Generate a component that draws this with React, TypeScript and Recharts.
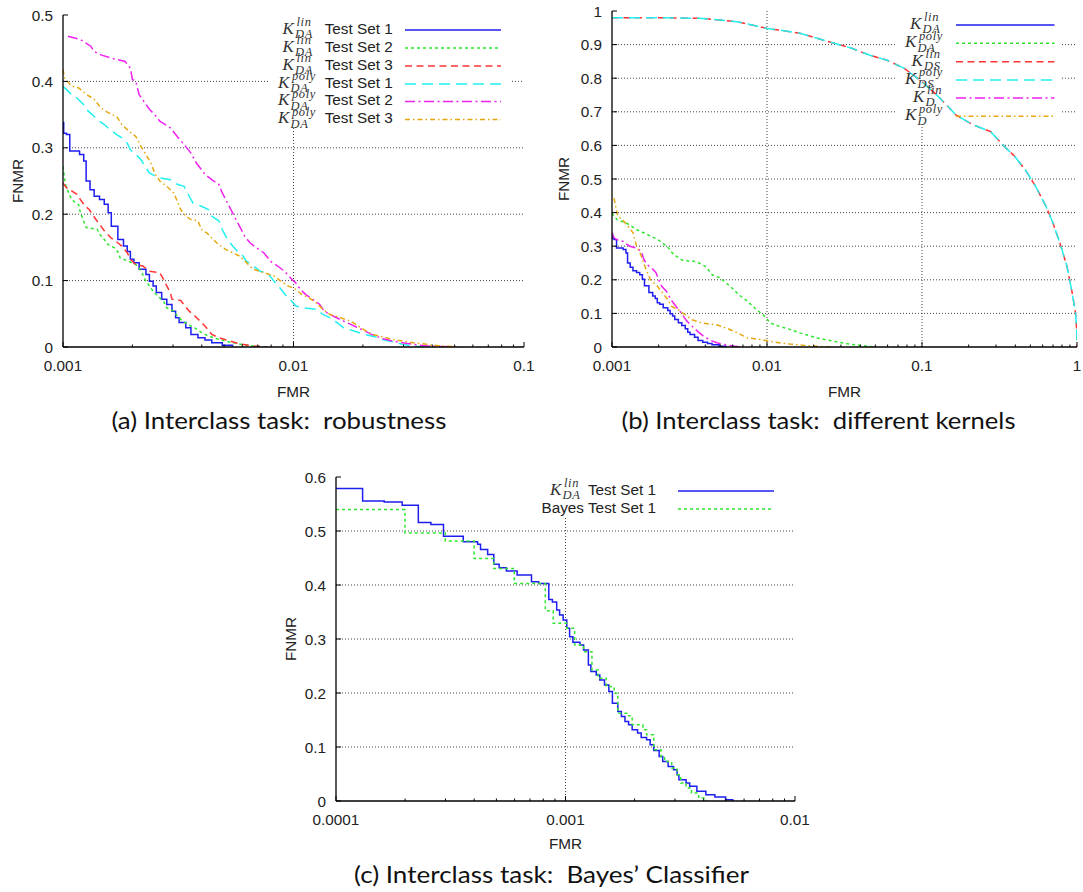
import React from 'react';
import { LineChart, Line, XAxis, YAxis, CartesianGrid, Legend } from 'recharts';

type Pair = [number, number];

const SANS = '"Liberation Sans", Arial, sans-serif';
const SERIF = '"Liberation Serif", "Times New Roman", serif';
const INK = '#222';

// ---------- (a) robustness ----------
const xMajorsA = [0.001, 0.01, 0.1];
const yTicksA = [0, 0.1, 0.2, 0.3, 0.4, 0.5];

const aLinSet1: Pair[] = [
  [0.001, 0.338], [0.001007, 0.322], [0.001035, 0.32], [0.00107, 0.295], [0.00118, 0.29],
  [0.00123, 0.28], [0.00126, 0.25], [0.00131, 0.237], [0.001365, 0.227], [0.00144, 0.222],
  [0.00151, 0.215], [0.00157, 0.202], [0.00162, 0.182], [0.00173, 0.162], [0.00183, 0.152],
  [0.0019, 0.144], [0.00196, 0.132], [0.00203, 0.127], [0.00214, 0.117], [0.00229, 0.109],
  [0.00237, 0.099], [0.00246, 0.092], [0.00254, 0.082], [0.00268, 0.072], [0.00282, 0.064],
  [0.00297, 0.054], [0.00308, 0.044], [0.00319, 0.037], [0.00341, 0.029], [0.00359, 0.019],
  [0.00385, 0.014], [0.00413, 0.0105], [0.00442, 0.0065], [0.00491, 0.0025], [0.00544, 0],
];
const aLinSet2: Pair[] = [
  [0.001, 0.272], [0.001024, 0.245], [0.001035, 0.24], [0.00109, 0.222], [0.00117, 0.214],
  [0.00119, 0.202], [0.00126, 0.18], [0.00141, 0.177], [0.00144, 0.17], [0.00151, 0.162],
  [0.00157, 0.154], [0.00168, 0.149], [0.00174, 0.142], [0.00177, 0.134], [0.00193, 0.129],
  [0.00207, 0.124], [0.00214, 0.119], [0.00222, 0.109], [0.00229, 0.099], [0.00237, 0.092],
  [0.00246, 0.084], [0.00254, 0.079], [0.00263, 0.074], [0.00273, 0.069], [0.00282, 0.059],
  [0.00302, 0.054], [0.00313, 0.047], [0.0033, 0.039], [0.00347, 0.034], [0.00372, 0.029],
  [0.00399, 0.0216], [0.00427, 0.0166], [0.00474, 0.0115], [0.00544, 0.0065], [0.00625, 0.0025],
  [0.00769, 0],
];
const aLinSet3: Pair[] = [
  [0.001, 0.247], [0.001035, 0.24], [0.00109, 0.235], [0.00115, 0.23], [0.00119, 0.222],
  [0.00125, 0.212], [0.0013, 0.207], [0.00134, 0.2], [0.00139, 0.192], [0.00146, 0.182],
  [0.00151, 0.175], [0.00162, 0.164], [0.0017, 0.159], [0.0018, 0.152], [0.0019, 0.142],
  [0.00196, 0.132], [0.00207, 0.124], [0.00222, 0.122], [0.00237, 0.114], [0.00263, 0.112],
  [0.00273, 0.102], [0.00282, 0.092], [0.00292, 0.082], [0.00297, 0.072], [0.00324, 0.07],
  [0.00353, 0.054], [0.00372, 0.047], [0.00399, 0.037], [0.00419, 0.029], [0.00442, 0.019],
  [0.00474, 0.014], [0.0053, 0.009], [0.0058, 0.005], [0.0067, 0.0015], [0.0077, 0],
];
const aPolySet1: Pair[] = [
  [0.001, 0.392], [0.001035, 0.388], [0.00109, 0.38], [0.00115, 0.375], [0.00123, 0.365],
  [0.00127, 0.357], [0.00134, 0.35], [0.00141, 0.342], [0.00151, 0.335], [0.0016, 0.327],
  [0.00171, 0.32], [0.0018, 0.315], [0.0019, 0.307], [0.00196, 0.297], [0.00207, 0.29],
  [0.00218, 0.282], [0.00229, 0.27], [0.00237, 0.262], [0.00259, 0.255], [0.00292, 0.252],
  [0.00313, 0.245], [0.00335, 0.242], [0.00353, 0.227], [0.00366, 0.217], [0.00399, 0.212],
  [0.00427, 0.207], [0.00442, 0.197], [0.00474, 0.19], [0.00491, 0.177], [0.00517, 0.162],
  [0.00544, 0.152], [0.00573, 0.144], [0.00604, 0.137], [0.00625, 0.129], [0.00669, 0.122],
  [0.00717, 0.114], [0.00769, 0.112], [0.00824, 0.099], [0.00883, 0.087], [0.0093, 0.077],
  [0.00983, 0.069], [0.0102, 0.062], [0.0109, 0.059], [0.0125, 0.057], [0.0134, 0.049],
  [0.0144, 0.044], [0.0154, 0.037], [0.0165, 0.029], [0.0183, 0.024], [0.0203, 0.019],
  [0.0225, 0.0155], [0.0242, 0.0115], [0.0268, 0.008], [0.0297, 0.004], [0.033, 0.0015],
  [0.0366, 0],
];
const aPolySet2: Pair[] = [
  [0.00105, 0.468], [0.00119, 0.463], [0.00132, 0.453], [0.001365, 0.445], [0.00146, 0.44],
  [0.00162, 0.435], [0.00186, 0.43], [0.00196, 0.42], [0.002, 0.403], [0.00207, 0.4],
  [0.00214, 0.38], [0.00222, 0.372], [0.00237, 0.358], [0.0025, 0.35], [0.00263, 0.34],
  [0.00292, 0.33], [0.00313, 0.317], [0.00335, 0.305], [0.00359, 0.292], [0.00379, 0.277],
  [0.00399, 0.267], [0.00413, 0.26], [0.00442, 0.252], [0.00474, 0.245], [0.00491, 0.232],
  [0.00517, 0.217], [0.00544, 0.202], [0.00563, 0.192], [0.00583, 0.182], [0.00614, 0.167],
  [0.00647, 0.157], [0.00693, 0.149], [0.00743, 0.142], [0.00796, 0.129], [0.00853, 0.122],
  [0.00914, 0.114], [0.00983, 0.102], [0.0102, 0.097], [0.0107, 0.087], [0.0113, 0.079],
  [0.0121, 0.072], [0.013, 0.064], [0.0136, 0.054], [0.0144, 0.049], [0.0154, 0.044],
  [0.0165, 0.039], [0.0177, 0.034], [0.0196, 0.027], [0.0218, 0.019], [0.0242, 0.013],
  [0.0268, 0.009], [0.0297, 0.0065], [0.033, 0.004], [0.0379, 0.0015], [0.0495, 0],
];
const aPolySet3: Pair[] = [
  [0.001, 0.418], [0.001017, 0.405], [0.00109, 0.393], [0.00117, 0.39], [0.00127, 0.38],
  [0.001365, 0.373], [0.00146, 0.36], [0.00157, 0.353], [0.00171, 0.347], [0.0018, 0.335],
  [0.00193, 0.325], [0.00207, 0.317], [0.00218, 0.302], [0.00229, 0.29], [0.00242, 0.275],
  [0.0025, 0.262], [0.00263, 0.25], [0.00282, 0.242], [0.00302, 0.232], [0.00313, 0.22],
  [0.00324, 0.207], [0.00341, 0.197], [0.00359, 0.192], [0.00385, 0.19], [0.00399, 0.177],
  [0.0042, 0.172], [0.00442, 0.164], [0.00474, 0.154], [0.00508, 0.147], [0.00544, 0.142],
  [0.00583, 0.137], [0.00625, 0.127], [0.00669, 0.117], [0.00743, 0.112], [0.00824, 0.107],
  [0.00883, 0.099], [0.00946, 0.092], [0.0102, 0.087], [0.0109, 0.079], [0.0117, 0.074],
  [0.0125, 0.067], [0.0134, 0.057], [0.0144, 0.049], [0.016, 0.044], [0.0177, 0.039],
  [0.0196, 0.029], [0.0218, 0.019], [0.0242, 0.0155], [0.0268, 0.0115], [0.0297, 0.009],
  [0.033, 0.0065], [0.0379, 0.004], [0.0435, 0.0015], [0.0535, 0],
];

// ---------- (b) different kernels ----------
const xMajorsB = [0.001, 0.01, 0.1, 1];
const yTicksB = [0, 0.1, 0.2, 0.3, 0.4, 0.5, 0.6, 0.7, 0.8, 0.9, 1];

const bDaPoly: Pair[] = [
  [0.001, 0.398], [0.00103, 0.389], [0.00108, 0.379], [0.00124, 0.369], [0.00145, 0.349],
  [0.0017, 0.334], [0.00199, 0.319], [0.00226, 0.3], [0.0025, 0.275], [0.00285, 0.258],
  [0.0035, 0.254], [0.004, 0.24], [0.00443, 0.215], [0.005, 0.205], [0.0058, 0.18],
  [0.0066, 0.155], [0.0075, 0.136], [0.0085, 0.112], [0.0095, 0.095], [0.0105, 0.072],
  [0.0113, 0.065], [0.0135, 0.055], [0.0163, 0.042], [0.021, 0.027], [0.027, 0.017],
  [0.035, 0.008], [0.045, 0.002], [0.05, 0],
];
// K_DS lin and poly lie on top of each other
const bDsCurve: Pair[] = [
  [0.001, 0.98], [0.002, 0.98], [0.00384, 0.978], [0.00497, 0.973], [0.00643, 0.968],
  [0.0075, 0.961], [0.01, 0.948], [0.01256, 0.942], [0.01626, 0.934], [0.02104, 0.919],
  [0.02723, 0.904], [0.03524, 0.889], [0.0456, 0.869], [0.059, 0.854], [0.0764, 0.83],
  [0.1, 0.79], [0.1278, 0.745], [0.1654, 0.691], [0.214, 0.661], [0.277, 0.641],
  [0.34, 0.597], [0.397, 0.567], [0.464, 0.527], [0.541, 0.478], [0.632, 0.418],
  [0.7, 0.369], [0.7765, 0.309], [0.861, 0.24], [0.931, 0.161], [0.979, 0.101],
  [0.998, 0.042], [1, 0],
];
const bDLin: Pair[] = [
  [0.001, 0.339], [0.00103, 0.325], [0.00108, 0.319], [0.00118, 0.314], [0.0013, 0.3],
  [0.00143, 0.295], [0.00155, 0.284], [0.0016, 0.262], [0.00168, 0.245], [0.0018, 0.235],
  [0.00192, 0.222], [0.002, 0.2], [0.0021, 0.18], [0.00225, 0.165], [0.0024, 0.141],
  [0.0026, 0.12], [0.0028, 0.101], [0.003, 0.08], [0.0033, 0.061], [0.0036, 0.045],
  [0.0039, 0.032], [0.0043, 0.02], [0.0048, 0.012], [0.0055, 0.006], [0.0062, 0.002],
  [0.0068, 0],
];
const bDPoly: Pair[] = [
  [0.00103, 0.443], [0.00109, 0.389], [0.00117, 0.379], [0.00127, 0.359], [0.00137, 0.339],
  [0.00144, 0.3], [0.00152, 0.28], [0.0016, 0.25], [0.00168, 0.225], [0.00177, 0.2],
  [0.00197, 0.18], [0.00212, 0.161], [0.00229, 0.141], [0.00242, 0.121], [0.00268, 0.111],
  [0.00297, 0.096], [0.00329, 0.081], [0.00384, 0.071], [0.00472, 0.066], [0.00551, 0.056],
  [0.00611, 0.047], [0.00677, 0.037], [0.0075, 0.027], [0.0092, 0.022], [0.0113, 0.014],
  [0.0139, 0.009], [0.0171, 0.005], [0.021, 0.002], [0.027, 0],
];

// ---------- (c) Bayes classifier ----------
const xMajorsC = [0.0001, 0.001, 0.01];
const yTicksC = [0, 0.1, 0.2, 0.3, 0.4, 0.5, 0.6];

const cLinSet1: Pair[] = [
  [0.0001, 0.5785], [0.0001306, 0.5557], [0.0001622, 0.5538], [0.0001942, 0.5476],
  [0.0002284, 0.5156], [0.0002591, 0.5119], [0.000294, 0.4904], [0.0003584, 0.48],
  [0.000414, 0.4756], [0.0004263, 0.4657], [0.000458, 0.4565], [0.000487, 0.4386],
  [0.000514, 0.4318], [0.0005525, 0.4257], [0.0006156, 0.4183], [0.000711, 0.406],
  [0.000764, 0.4029], [0.0008457, 0.3733], [0.0008767, 0.3684], [0.0009155, 0.3536],
  [0.0009423, 0.3444], [0.0009768, 0.3351], [0.0010127, 0.3197], [0.001042, 0.3043],
  [0.001077, 0.2938], [0.001157, 0.2889], [0.001199, 0.2797], [0.001258, 0.252],
  [0.00129, 0.2396], [0.001361, 0.2335], [0.001411, 0.2242], [0.001479, 0.215],
  [0.001545, 0.2027], [0.001601, 0.1811], [0.00169, 0.1657], [0.001752, 0.1565],
  [0.001816, 0.1472], [0.001883, 0.1411], [0.001952, 0.1318], [0.002061, 0.1257],
  [0.002137, 0.1177], [0.002256, 0.1133], [0.002338, 0.1041], [0.002424, 0.0936],
  [0.002559, 0.0825], [0.002652, 0.0733], [0.0028, 0.0641], [0.002956, 0.0579],
  [0.003064, 0.0487], [0.00312, 0.0394], [0.003353, 0.0333], [0.003476, 0.0271],
  [0.003736, 0.0179], [0.004089, 0.0117], [0.004475, 0.0074], [0.004985, 0.0025],
  [0.005358, 0],
];
const cBayesSet1: Pair[] = [
  [0.0001, 0.5396], [0.0001998, 0.4965], [0.0002993, 0.4817], [0.0003995, 0.4491],
  [0.000487, 0.4306], [0.000598, 0.4029], [0.0008167, 0.3524], [0.000884, 0.329],
  [0.0010127, 0.3197], [0.001096, 0.2889], [0.001199, 0.2766], [0.001304, 0.2427],
  [0.001386, 0.2273], [0.001506, 0.2119], [0.00163, 0.1996], [0.00169, 0.1626],
  [0.001883, 0.1577], [0.001952, 0.1411], [0.002175, 0.1318], [0.002256, 0.1226],
  [0.002424, 0.0949], [0.002605, 0.0825], [0.002701, 0.0733], [0.002903, 0.061],
  [0.003064, 0.0487], [0.003177, 0.0333], [0.003353, 0.024], [0.00354, 0.0148],
  [0.003805, 0.0055], [0.004089, 0],
];

// ---------- styles ----------
const BLUE = '#1e1ef0';
const GREEN = '#2fe62f';
const RED = '#ff3535';
const CYAN = '#22f0f0';
const MAGENTA = '#f022f0';
const ORANGE = '#e6a812';

const DOTTED = '3 3';
const DASHED = '7 4.5';
const LONGDASH = '11 6';
const DASHDOT = '10 3.5 2 3.5';
const DASHDOTDOT = '5 3 1.5 3';

type KeyEntry = { y: number; kx?: number; sup?: string; sub?: string; text?: string };
type Series = { id: string; data: Pair[]; color: string; dash?: string; step?: boolean; key: KeyEntry };
type PanelCfg = {
  left: number; top: number; width: number; height: number;
  margin: { top: number; right: number; bottom: number; left: number };
  yAxisWidth: number; xAxisHeight: number;
  xMajors: number[]; yTicks: number[];
  series: Series[];
  gap: { left: number; right: number; bottom: number };
  keyLine: { textRight?: number; x1: number; x2: number };
};

const panelA: PanelCfg = {
  left: 0, top: 0, width: 545, height: 405,
  margin: { top: 15, right: 21, bottom: 0, left: 8 },
  yAxisWidth: 55, xAxisHeight: 58,
  xMajors: xMajorsA, yTicks: yTicksA,
  gap: { left: 270, right: 512, bottom: 128 },
  keyLine: { textRight: 392.7, x1: 405, x2: 501 },
  series: [
    { id: 'a1', data: aLinSet1, color: BLUE, step: true, key: { y: 30, kx: 282.5, sup: 'lin', sub: 'DA', text: 'Test Set 1' } },
    { id: 'a2', data: aLinSet2, color: GREEN, dash: DOTTED, key: { y: 48, kx: 282.5, sup: 'lin', sub: 'DA', text: 'Test Set 2' } },
    { id: 'a3', data: aLinSet3, color: RED, dash: DASHED, key: { y: 66, kx: 282.5, sup: 'lin', sub: 'DA', text: 'Test Set 3' } },
    { id: 'a4', data: aPolySet1, color: CYAN, dash: LONGDASH, key: { y: 84, kx: 278, sup: 'poly', sub: 'DA', text: 'Test Set 1' } },
    { id: 'a5', data: aPolySet2, color: MAGENTA, dash: DASHDOT, key: { y: 101.5, kx: 278, sup: 'poly', sub: 'DA', text: 'Test Set 2' } },
    { id: 'a6', data: aPolySet3, color: ORANGE, dash: DASHDOTDOT, key: { y: 119.5, kx: 278, sup: 'poly', sub: 'DA', text: 'Test Set 3' } },
  ],
};

const panelB: PanelCfg = {
  left: 545, top: 0, width: 538, height: 405,
  margin: { top: 11, right: 6, bottom: 0, left: 8 },
  yAxisWidth: 59, xAxisHeight: 58,
  xMajors: xMajorsB, yTicks: yTicksB,
  gap: { left: 351, right: 517, bottom: 127 },
  keyLine: { x1: 411, x2: 509.5 },
  series: [
    { id: 'b1', data: aLinSet1, color: BLUE, step: true, key: { y: 25, kx: 365, sup: 'lin', sub: 'DA' } },
    { id: 'b2', data: bDaPoly, color: GREEN, dash: DOTTED, key: { y: 43.3, kx: 360, sup: 'poly', sub: 'DA' } },
    { id: 'b3', data: bDsCurve, color: RED, dash: DASHED, key: { y: 61.7, kx: 366.5, sup: 'lin', sub: 'DS' } },
    { id: 'b4', data: bDsCurve, color: CYAN, dash: LONGDASH, key: { y: 80, kx: 360, sup: 'poly', sub: 'DS' } },
    { id: 'b5', data: bDLin, color: MAGENTA, dash: DASHDOT, key: { y: 98, kx: 368, sup: 'lin', sub: 'D' } },
    { id: 'b6', data: bDPoly, color: ORANGE, dash: DASHDOTDOT, key: { y: 116.3, kx: 360, sup: 'poly', sub: 'D' } },
  ],
};

const panelC: PanelCfg = {
  left: 250, top: 440, width: 580, height: 420,
  margin: { top: 37, right: 35, bottom: 0, left: 8 },
  yAxisWidth: 78, xAxisHeight: 59,
  xMajors: xMajorsC, yTicks: yTicksC,
  gap: { left: 275, right: 540, bottom: 78 },
  keyLine: { textRight: 406, x1: 428, x2: 524 },
  series: [
    { id: 'c1', data: cLinSet1, color: BLUE, step: true, key: { y: 51, kx: 300, sup: 'lin', sub: 'DA', text: 'Test Set 1' } },
    { id: 'c2', data: cBayesSet1, color: GREEN, dash: DOTTED, step: true, key: { y: 69, text: 'Bayes Test Set 1' } },
  ],
};

const tickFont = { fontFamily: SANS, fontSize: 15.3, fill: INK };
const keyFont = { fontFamily: SANS, fontSize: 15.3, fill: INK };
const mathK = { fontFamily: SERIF, fontStyle: 'italic', fontSize: 17, fill: '#333' };
const mathS = { fontFamily: SERIF, fontStyle: 'italic', fontSize: 12.5, fill: '#333', letterSpacing: 0.6 };

const withMinors = (majors: number[]) => {
  const out: number[] = [];
  majors.forEach((m, i) => {
    out.push(m);
    if (i < majors.length - 1) for (let k = 2; k <= 9; k++) out.push(m * k);
  });
  return out;
};

const toPts = (arr: Pair[]) => arr.map(([x, y]) => ({ x, y }));

function xTick(majors: number[], top: boolean) {
  return (p: any) => {
    const v = p.payload.value;
    const major = majors.some((m) => Math.abs(m - v) < m * 1e-9);
    const len = major ? 5 : 2.5;
    return (
      <g>
        <line x1={p.x} x2={p.x} y1={p.y} y2={top ? p.y + len : p.y - len} stroke="#000" strokeWidth={1} />
        {!top && major && (
          <text x={p.x} y={p.y + 18} textAnchor="middle" dominantBaseline="central" style={tickFont}>
            {String(v)}
          </text>
        )}
      </g>
    );
  };
}

function yTick(right: boolean) {
  return (p: any) => (
    <g>
      <line x1={p.x} x2={right ? p.x - 5 : p.x + 5} y1={p.y} y2={p.y} stroke="#000" strokeWidth={1} />
      {!right && (
        <text x={p.x - 10} y={p.y} textAnchor="end" dominantBaseline="central" style={tickFont}>
          {String(p.payload.value)}
        </text>
      )}
    </g>
  );
}

// gnuplot leaves the grid out where the key sits
function gridLines(gap: PanelCfg['gap']) {
  const common = { stroke: '#444', strokeWidth: 1, strokeDasharray: '1 2', fill: 'none' };
  return {
    horizontal: (p: any) => {
      const d = p.y1 < gap.bottom
        ? `M${p.x1},${p.y1}H${gap.left}M${gap.right},${p.y1}H${p.x2}`
        : `M${p.x1},${p.y1}H${p.x2}`;
      return <path key={`h-${p.y1}`} d={d} {...common} />;
    },
    vertical: (p: any) => {
      const y0 = p.x1 > gap.left && p.x1 < gap.right ? Math.max(p.y1, gap.bottom) : p.y1;
      return <path key={`v-${p.x1}`} d={`M${p.x1},${y0}V${p.y2}`} {...common} />;
    },
  };
}

function KeyBox({ cfg }: { cfg: PanelCfg }) {
  const { keyLine } = cfg;
  return (
    <svg width={cfg.width} height={cfg.height} style={{ position: 'absolute', left: 0, top: 0, overflow: 'visible' }}>
      {cfg.series.map((s) => {
        const k = s.key;
        return (
          <g key={s.id}>
            {k.kx !== undefined && (
              <>
                <text x={k.kx} y={k.y + 3.8} style={mathK}>K</text>
                <text x={k.kx + 14} y={k.y - 3.8} style={mathS}>{k.sup}</text>
                <text x={k.kx + 12.5} y={k.y + 8.2} style={mathS}>{k.sub}</text>
              </>
            )}
            {k.text && keyLine.textRight !== undefined && (
              <text x={keyLine.textRight} y={k.y + 3.7} textAnchor="end" style={keyFont}>{k.text}</text>
            )}
            <line x1={keyLine.x1} x2={keyLine.x2} y1={k.y} y2={k.y} stroke={s.color} strokeWidth={1.6} strokeDasharray={s.dash} />
          </g>
        );
      })}
    </svg>
  );
}

function Panel({ cfg }: { cfg: PanelCfg }) {
  const xTicks = withMinors(cfg.xMajors);
  const xDomain = [cfg.xMajors[0], cfg.xMajors[cfg.xMajors.length - 1]];
  const yDomain = [cfg.yTicks[0], cfg.yTicks[cfg.yTicks.length - 1]];
  const grid = gridLines(cfg.gap);
  const frame = { stroke: '#000', strokeWidth: 1.3 };
  return (
    <div style={{ position: 'absolute', left: cfg.left, top: cfg.top, width: cfg.width, height: cfg.height }}>
      <LineChart width={cfg.width} height={cfg.height} margin={cfg.margin}>
        <CartesianGrid
          horizontalValues={cfg.yTicks.slice(1, -1)}
          verticalValues={cfg.xMajors.slice(1, -1)}
          horizontal={grid.horizontal}
          vertical={grid.vertical}
        />
        <XAxis
          dataKey="x" type="number" scale="log" domain={xDomain} allowDataOverflow
          ticks={xTicks} interval={0} height={cfg.xAxisHeight}
          tickSize={0} tickMargin={0} tickLine={false} axisLine={frame}
          tick={xTick(cfg.xMajors, false)}
        />
        <XAxis
          xAxisId="top" orientation="top" dataKey="x" type="number" scale="log" domain={xDomain} allowDataOverflow
          ticks={xTicks} interval={0} height={0}
          tickSize={0} tickMargin={0} tickLine={false} axisLine={frame}
          tick={xTick(cfg.xMajors, true)}
        />
        <YAxis
          type="number" domain={yDomain} allowDataOverflow ticks={cfg.yTicks} interval={0}
          width={cfg.yAxisWidth} tickSize={0} tickMargin={0} tickLine={false} axisLine={frame}
          tick={yTick(false)}
        />
        <YAxis
          yAxisId="right" orientation="right" type="number" domain={yDomain} allowDataOverflow
          ticks={cfg.yTicks} interval={0} width={0} tickSize={0} tickMargin={0} tickLine={false}
          axisLine={frame} tick={yTick(true)}
        />
        {cfg.series.map((s) => (
          <Line
            key={s.id}
            data={toPts(s.data)}
            dataKey="y"
            type={s.step ? 'stepAfter' : 'linear'}
            stroke={s.color}
            strokeWidth={1.5}
            strokeDasharray={s.dash}
            dot={false}
            activeDot={false}
            isAnimationActive={false}
          />
        ))}
        <Legend
          layout="horizontal"
          verticalAlign="middle"
          align="center"
          wrapperStyle={{ left: 0, top: 0, width: cfg.width, height: cfg.height, pointerEvents: 'none' }}
          content={() => <KeyBox cfg={cfg} />}
        />
      </LineChart>
    </div>
  );
}

const axisTitles = [
  { text: 'FMR', x: 293.5, y: 391.7, rotate: false },
  { text: 'FNMR', x: 17.3, y: 181, rotate: true },
  { text: 'FMR', x: 844.5, y: 391.7, rotate: false },
  { text: 'FNMR', x: 563.6, y: 179, rotate: true },
  { text: 'FMR', x: 565.5, y: 843.3, rotate: false },
  { text: 'FNMR', x: 290.5, y: 639, rotate: true },
];

const captions = [
  { text: '(a) Interclass task:  robustness', x: 278.9, y: 429, len: 335 },
  { text: '(b) Interclass task:  different kernels', x: 818.5, y: 429, len: 394 },
  { text: '(c) Interclass task:  Bayes\u2019 Classifier', x: 551.5, y: 883.3, len: 395 },
];

export default function App() {
  return (
    <div style={{ position: 'absolute', left: 0, top: 0, width: 1083, height: 892, background: '#fff', overflow: 'hidden' }}>
      <Panel cfg={panelA} />
      <Panel cfg={panelB} />
      <Panel cfg={panelC} />
      <svg width={1083} height={892} style={{ position: 'absolute', left: 0, top: 0, pointerEvents: 'none' }}>
        {axisTitles.map((t, i) => (
          <text
            key={i}
            x={t.x}
            y={t.y}
            textAnchor="middle"
            dominantBaseline="central"
            transform={t.rotate ? `rotate(-90 ${t.x} ${t.y})` : undefined}
            style={{ fontFamily: SANS, fontSize: 15.3, fill: INK }}
          >
            {t.text}
          </text>
        ))}
        {captions.map((c, i) => (
          <text
            key={i}
            x={c.x}
            y={c.y}
            textAnchor="middle"
            textLength={c.len}
            lengthAdjust="spacingAndGlyphs"
            style={{ fontFamily: 'Lato, "DejaVu Sans", sans-serif', fontSize: 22.5, fill: '#111', whiteSpace: 'pre' }}
          >
            {c.text}
          </text>
        ))}
      </svg>
    </div>
  );
}
